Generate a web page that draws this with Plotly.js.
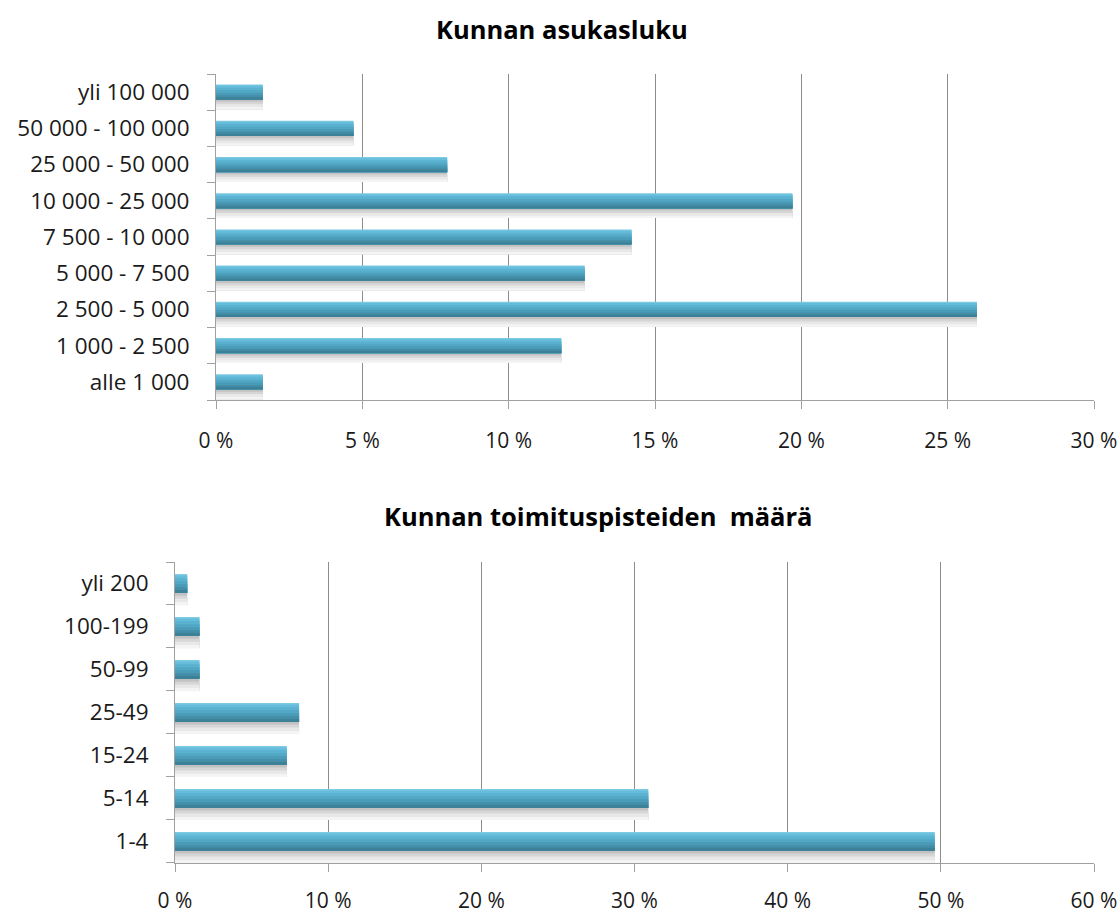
<!DOCTYPE html>
<html>
<head>
<meta charset="utf-8">
<script src="https://cdn.plot.ly/plotly-3.0.1.min.js"></script>
<style>
  html, body { margin: 0; padding: 0; background: #ffffff; }
  #chart { width: 1118px; height: 915px; }
</style>
</head>
<body>
<div id="chart"></div>
<script>
// ---- Data ----
const popTitle = 'Kunnan asukasluku';
const popCategories = ['alle 1 000', '1 000 - 2 500', '2 500 - 5 000', '5 000 - 7 500', '7 500 - 10 000',
                       '10 000 - 25 000', '25 000 - 50 000', '50 000 - 100 000', 'yli 100 000'];
const popValues = [1.6, 11.8, 26.0, 12.6, 14.2, 19.7, 7.9, 4.7, 1.6];
const popTickVals = [0, 5, 10, 15, 20, 25, 30];
const popTickText = ['0 %', '5 %', '10 %', '15 %', '20 %', '25 %', '30 %'];

const siteTitle = 'Kunnan toimituspisteiden  määrä';
const siteCategories = ['1-4', '5-14', '15-24', '25-49', '50-99', '100-199', 'yli 200'];
const siteValues = [49.6, 30.9, 7.3, 8.1, 1.6, 1.6, 0.8];
const siteTickVals = [0, 10, 20, 30, 40, 50, 60];
const siteTickText = ['0 %', '10 %', '20 %', '30 %', '40 %', '50 %', '60 %'];

// ---- Styles ----
const FONT = 'Open Sans, Lato, sans-serif';
// bands from top of bar to bottom: [fraction of bar width, color]
const barBands = [
  [0.08, '#7cc9e2'],
  [0.14, '#66bddb'],
  [0.16, '#5ab2d0'],
  [0.16, '#51a7c4'],
  [0.16, '#4a9bb7'],
  [0.14, '#448ea8'],
  [0.16, '#3d8198']
];
// shadow bands from just below the bar downward
const shadowBands = [
  [0.14, '#c2c2c2'],
  [0.16, '#d6d6d6'],
  [0.18, '#e8e8e8'],
  [0.16, '#f4f4f4']
];

function barTrace(xs, ys, xa, ya, width, offset, color) {
  return {
    type: 'bar', orientation: 'h', x: xs, y: ys, xaxis: xa, yaxis: ya,
    width: width, offset: offset, marker: {color: color, line: {width: 0}},
    hoverinfo: 'skip', showlegend: false
  };
}

function makeTraces(xs, ys, xa, ya, w) {
  const traces = [];
  const bottom = -w / 2;
  const total = shadowBands.reduce((s, b) => s + b[0] * w, 0);
  const shadowBottom = bottom - total;
  // shadow: darkest first spanning the whole shadow, lighter ones overlay the lower parts
  let top = bottom;
  shadowBands.forEach(([f, c]) => {
    traces.push(barTrace(xs, ys, xa, ya, top - shadowBottom, shadowBottom, c));
    top -= f * w;
  });
  // bar bands: each layer spans from its own top down to the bar bottom; drawn top-first
  let t = w / 2;
  barBands.forEach(([f, c]) => {
    traces.push(barTrace(xs, ys, xa, ya, t - bottom, bottom, c));
    t -= f * w;
  });
  return traces;
}

const data = [].concat(
  makeTraces(popValues, popCategories, 'x', 'y', 0.42),
  makeTraces(siteValues, siteCategories, 'x2', 'y2', 0.44)
);

const W = 1118, H = 915;
const axisCommon = {
  showline: true, linecolor: '#a0a0a0', linewidth: 1,
  ticks: 'outside', ticklen: 8, tickcolor: '#a0a0a0', tickwidth: 1,
  fixedrange: true
};
const xFont = {family: FONT, size: 21, color: '#1a1a1a'};
const yFont = {family: FONT, size: 22.5, color: '#1a1a1a'};

const layout = {
  width: W, height: H,
  margin: {l: 0, r: 0, t: 0, b: 0},
  paper_bgcolor: '#ffffff', plot_bgcolor: '#ffffff',
  barmode: 'overlay',
  showlegend: false,
  xaxis: Object.assign({}, axisCommon, {
    domain: [216 / W, 1094 / W], anchor: 'y',
    range: [0, 30], tickvals: popTickVals, ticktext: popTickText, tickfont: xFont,
    showgrid: true, gridcolor: '#8c8c8c', gridwidth: 1, zeroline: false,
    ticklabelstandoff: 14
  }),
  yaxis: Object.assign({}, axisCommon, {
    domain: [1 - 400 / H, 1 - 74 / H], anchor: 'x',
    type: 'category', categoryorder: 'array', categoryarray: popCategories,
    tickson: 'boundaries', showgrid: false, zeroline: false, tickfont: yFont,
    ticklabelstandoff: 21
  }),
  xaxis2: Object.assign({}, axisCommon, {
    domain: [175 / W, 1094 / W], anchor: 'y2',
    range: [0, 60], tickvals: siteTickVals, ticktext: siteTickText, tickfont: xFont,
    showgrid: true, gridcolor: '#8c8c8c', gridwidth: 1, zeroline: false,
    ticklabelstandoff: 11
  }),
  yaxis2: Object.assign({}, axisCommon, {
    domain: [1 - 863 / H, 1 - 562 / H], anchor: 'x2',
    type: 'category', categoryorder: 'array', categoryarray: siteCategories,
    tickson: 'boundaries', showgrid: false, zeroline: false, tickfont: yFont,
    ticklabelstandoff: 21
  }),
  annotations: [
    {text: '<b>' + popTitle + '</b>', xref: 'paper', yref: 'paper',
     x: 562 / W, y: 1 - 29 / H, xanchor: 'center', yanchor: 'middle', showarrow: false,
     font: {family: FONT, size: 25.5, color: '#000000'}},
    {text: '<b>' + siteTitle + '</b>', xref: 'paper', yref: 'paper',
     x: 598 / W, y: 1 - 516 / H, xanchor: 'center', yanchor: 'middle', showarrow: false,
     font: {family: FONT, size: 25.5, color: '#000000'}}
  ]
};

Plotly.newPlot('chart', data, layout, {staticPlot: true, displayModeBar: false});
</script>
</body>
</html>
